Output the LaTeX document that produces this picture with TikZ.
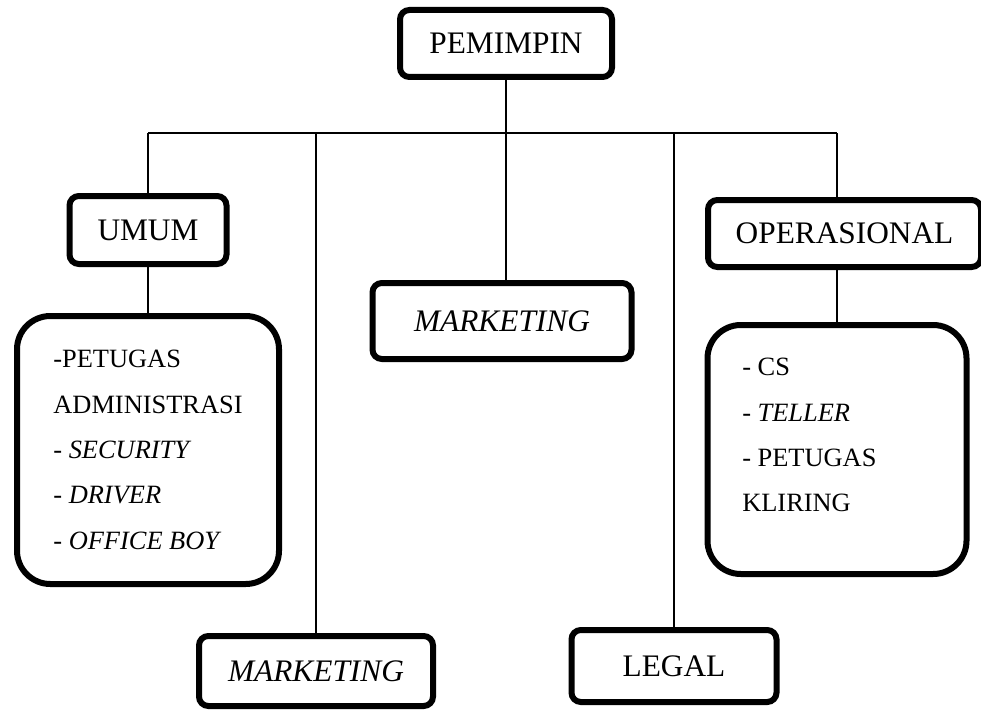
\documentclass[tikz,border=0pt]{standalone}
\usepackage{fontspec}
\setmainfont{Liberation Serif}

\begin{document}
\begin{tikzpicture}[x=0.75pt, y=-0.75pt,
    unit/.style={rectangle, draw, line width=4.5pt, rounded corners=7pt, inner sep=0pt, font=\fontsize{23.5}{28}\selectfont},
    list/.style={rectangle, draw, line width=4.5pt, rounded corners=25pt},
    items/.style={align=left, inner sep=0pt, font=\fontsize{19.8}{34}\selectfont},
    link/.style={line width=1.2pt}]
    \useasboundingbox (0,0) rectangle (981,710);
    \clip (0,0) rectangle (981,710);

    \node[unit, minimum width=159pt, minimum height=50.25pt] (pem) at (506,43.5) {PEMIMPIN};
    \node[unit, minimum width=117.75pt, minimum height=51pt] (umum) at (148,230) {UMUM};
    \node[list, minimum width=196.5pt, minimum height=201pt] (umumlist) at (148,450) {};
    \node[items] (umumtext) at (umumlist) {-PETUGAS\\ADMINISTRASI\\- \textit{SECURITY}\\- \textit{DRIVER}\\- \textit{OFFICE BOY}};
    \node[unit, minimum width=194.25pt, minimum height=57pt] (mktmid) at (502,321) {\textit{MARKETING}};
    \node[unit, minimum width=204.75pt, minimum height=50.25pt] (ops) at (844.5,233.5) {OPERASIONAL};
    \node[list, minimum width=194.25pt, minimum height=186.75pt] (opslist) at (837,449.5) {};
    \node[items, anchor=north west] (opstext) at (742,358) {- CS\\- \textit{TELLER}\\- PETUGAS\\KLIRING};
    \node[unit, minimum width=175.5pt, minimum height=52.5pt] (mktlow) at (316,671) {\textit{MARKETING}};
    \node[unit, minimum width=153.75pt, minimum height=54pt] (legal) at (674,666) {LEGAL};

    % garis penghubung
    \coordinate (busL) at (148,133);
    \coordinate (busR) at (837,133);
    \draw[link] (busL) -- (busR);
    \draw[link] (pem) -- (pem |- busL) -- (pem |- mktmid.north);
    \draw[link] (busL) -- (umum);
    \draw[link] (umum) -- (umumlist);
    \draw[link] (mktlow |- busL) -- (mktlow);
    \draw[link] (legal |- busL) -- (legal);
    \draw[link] (busR) -- (ops.north -| busR);
    \draw[link] (ops.south -| busR) -- (opslist);
\end{tikzpicture}
\end{document}
